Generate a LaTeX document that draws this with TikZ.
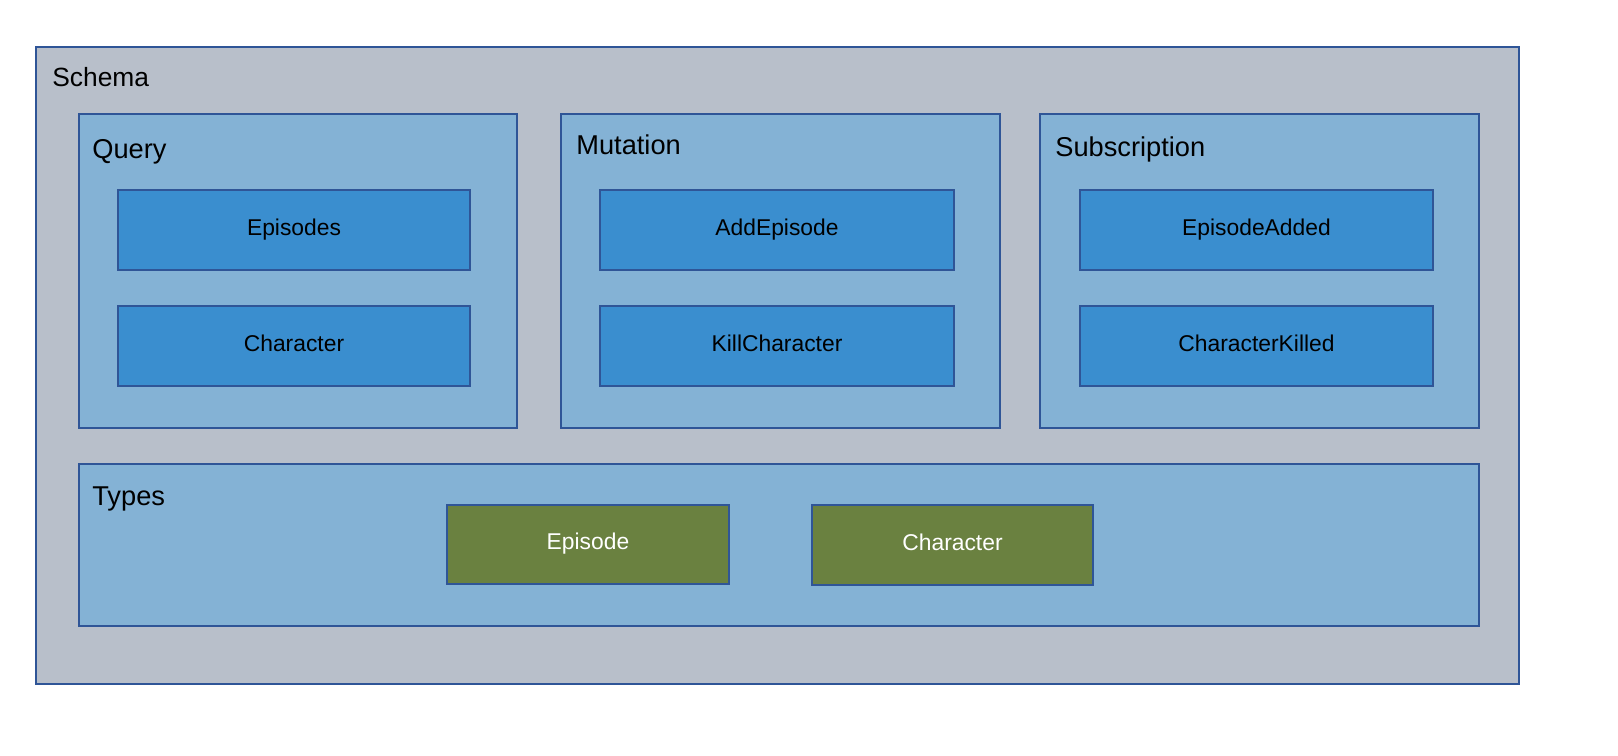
\documentclass[tikz,border=0pt]{standalone}
\usepackage{fontspec}
\setmainfont{Liberation Sans}
\usepackage{tikz}
\definecolor{schemagray}{HTML}{B8BFCA}
\definecolor{groupblue}{HTML}{84B2D5}
\definecolor{fieldblue}{HTML}{3A8ECF}
\definecolor{typegreen}{HTML}{6A8140}
\definecolor{edgeblue}{HTML}{2F5597}
\tikzset{
	schemabox/.style={draw=edgeblue, line width=0.55mm, fill=schemagray, inner sep=0pt},
	groupbox/.style={draw=edgeblue, line width=0.3mm, fill=groupblue, inner sep=0pt},
	fieldbox/.style={draw=edgeblue, line width=0.3mm, fill=fieldblue, inner sep=0pt, text height=1.45ex, text depth=0.35ex, font=\fontsize{13}{15}\selectfont},
	typebox/.style={draw=edgeblue, line width=0.3mm, fill=typegreen, text=white, inner sep=0pt, text height=1.45ex, text depth=0.35ex, font=\fontsize{13}{15}\selectfont},
	title/.style={anchor=base west, inner sep=0pt, font=\fontsize{15.5}{18}\selectfont}
}

\begin{document}
\begin{tikzpicture}[x=0.2mm, y=-0.2mm]
			%%%%% START %%%%%
			
			\useasboundingbox[fill=white] (0, 0) rectangle (1618, 756);
			
			\node[schemabox, minimum width=296.6mm, minimum height=127.4mm] (schema) at (777.5, 365.5) {};
			\node[title, font=\fontsize{15}{18}\selectfont] (schemalbl) at (52, 87) {Schema};
			
			\node[groupbox, minimum width=87.6mm, minimum height=62.8mm] (query) at (298, 271) {};
			\node[title] (querylbl) at (92, 159) {Query};
			\node[fieldbox, minimum width=70.4mm, minimum height=16mm] (episodes) at (294, 230) {Episodes};
			\node[fieldbox, minimum width=70.4mm, minimum height=16mm] (character) at (294, 346) {Character};
			
			\node[groupbox, minimum width=87.8mm, minimum height=62.8mm] (mutation) at (780.5, 271) {};
			\node[title] (mutationlbl) at (576, 155) {Mutation};
			\node[fieldbox, minimum width=70.8mm, minimum height=16mm] (addepisode) at (777, 230) {AddEpisode};
			\node[fieldbox, minimum width=70.8mm, minimum height=16mm] (killcharacter) at (777, 346) {KillCharacter};
			
			\node[groupbox, minimum width=87.8mm, minimum height=62.8mm] (subscription) at (1259.5, 271) {};
			\node[title] (subscriptionlbl) at (1055, 157) {Subscription};
			\node[fieldbox, minimum width=70.6mm, minimum height=16mm] (episodeadded) at (1256.5, 230) {EpisodeAdded};
			\node[fieldbox, minimum width=70.6mm, minimum height=16mm] (characterkilled) at (1256.5, 346) {CharacterKilled};
			
			\node[groupbox, minimum width=280mm, minimum height=32.4mm] (types) at (779, 545) {};
			\node[title] (typeslbl) at (92, 505) {Types};
			\node[typebox, minimum width=56.4mm, minimum height=15.8mm] (episode) at (588, 544.5) {Episode};
			\node[typebox, minimum width=56.2mm, minimum height=16mm] (charactertype) at (952.5, 545) {Character};
			
			%%%%% END %%%%%
\end{tikzpicture}
\end{document}
